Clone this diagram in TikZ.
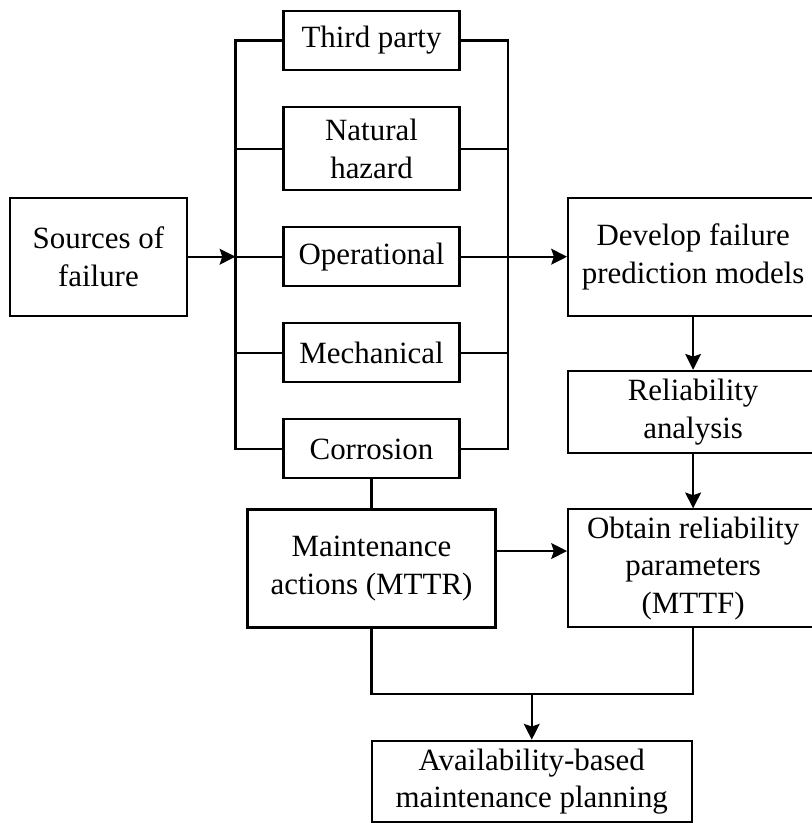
\documentclass[tikz,border=0pt]{standalone}
\usepackage{fontspec}
\setmainfont{Liberation Serif}
\usetikzlibrary{arrows.meta, positioning}

\begin{document}
\begin{tikzpicture}[>={Stealth[length=9pt, width=9pt, inset=1.5pt]}, line width=1.2pt,
  every node/.style={align=center, font=\fontsize{17.6}{21.5}\selectfont},
  box/.style={draw, inner sep=2pt, minimum width=3.52cm, minimum height=1.18cm},
  wbox/.style={box, minimum width=5cm, minimum height=2.36cm}]
\useasboundingbox (0,0) rectangle (16.22,-16.46);
% causes
\node (third)   [box] at (7.43,-0.81)               {Third party};
\node (natural) [box, minimum height=1.66cm, below=0.7cm of third] {Natural\\hazard};
\node (oper)    [box, below=0.7cm of natural]       {Operational};
\node (mech)    [box, below=0.7cm of oper]          {Mechanical};
\node (corr)    [box, below=0.7cm of mech]          {Corrosion};
\node (sources) [box, minimum width=3.54cm, minimum height=2.36cm, left=1.89cm of oper] {Sources of\\failure};
% right column
\node (develop) [wbox, right=2.13cm of oper]        {Develop failure\\prediction models};
\node (reliab)  [wbox, minimum height=1.65cm, below=1.06cm of develop] {Reliability\\analysis};
\node (obtain)  [wbox, below=1.08cm of reliab]      {Obtain reliability\\parameters\\(MTTF)};
\node (maint)   [wbox, minimum width=4.96cm, below=0.58cm of corr] {Maintenance\\actions (MTTR)};
\node (avail)   [box, minimum width=6.4cm, minimum height=1.63cm] at (10.635,-15.63) {Availability-based\\maintenance planning};
\coordinate [left=0.94cm of third.west] (lb);
\coordinate [right=0.95cm of third.east] (rb);
\coordinate [below=1.3cm of maint.south] (mj);
% buses
\draw (third.west) -- (lb) |- (corr.west);
\draw (third.east) -- (rb) |- (corr.east);
\draw (natural.west) -- (natural.west -| lb);
\draw (natural.east) -- (natural.east -| rb);
\draw (oper.west) -- (oper.west -| lb);
\draw (mech.west) -- (mech.west -| lb);
\draw (mech.east) -- (mech.east -| rb);
\draw[->] (sources.east) -- (sources.east -| lb);
\draw[->] (oper.east) -- (develop.west);
\draw (corr.south) -- (maint.north);
\draw[->] (develop) -- (reliab);
\draw[->] (reliab) -- (obtain);
\draw[->] ([yshift=0.35cm]maint.east) -- ([yshift=0.35cm]maint.east -| obtain.west);
\draw (maint.south) -- (mj) -| (obtain.south);
\draw[->] (mj -| avail.north) -- (avail.north);
\end{tikzpicture}
\end{document}
